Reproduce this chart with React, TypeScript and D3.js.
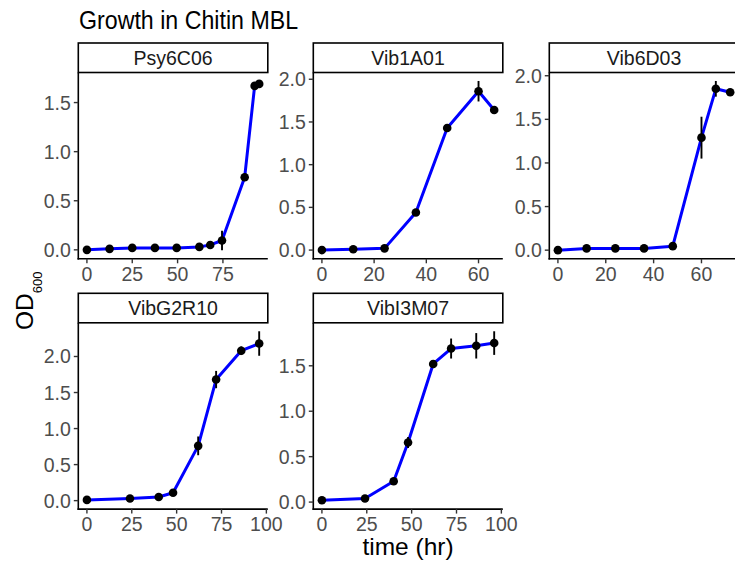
import React from 'react';
import * as d3 from 'd3';

// strain names, in facet order
const strains = ['Psy6C06', 'Vib1A01', 'Vib6D03', 'VibG2R10', 'VibI3M07'];

// time (hr), mean OD600 and error per strain
const timePsy6C06 = [0, 12.5, 25, 37.5, 49.5, 62, 68, 74.5, 87, 92.5, 95];
const odPsy6C06 = [0.0, 0.01, 0.02, 0.02, 0.02, 0.03, 0.05, 0.095, 0.74, 1.67, 1.69];
const errPsy6C06 = [0.005, 0.01, 0.015, 0.01, 0.01, 0.015, 0.01, 0.1, 0.02, 0.02, 0.03];

const timeVib1A01 = [0, 12, 24, 36, 48, 60, 66];
const odVib1A01 = [0.0, 0.01, 0.02, 0.44, 1.43, 1.86, 1.64];
const errVib1A01 = [0.003, 0.01, 0.01, 0.02, 0.02, 0.12, 0.02];

const timeVib6D03 = [0, 12, 24, 36, 48, 60, 66, 72];
const odVib6D03 = [0.0, 0.02, 0.02, 0.02, 0.046, 1.29, 1.85, 1.81];
const errVib6D03 = [0.002, 0.02, 0.015, 0.015, 0.02, 0.24, 0.09, 0.02];

const timeVibG2R10 = [0, 24, 40, 48, 62, 72, 86, 96];
const odVibG2R10 = [0.01, 0.03, 0.05, 0.11, 0.76, 1.68, 2.08, 2.18];
const errVibG2R10 = [0.01, 0.015, 0.02, 0.03, 0.13, 0.12, 0.06, 0.17];

const timeVibI3M07 = [0, 24, 40, 48, 62, 72, 86, 96];
const odVibI3M07 = [0.02, 0.04, 0.23, 0.655, 1.52, 1.69, 1.72, 1.75];
const errVibI3M07 = [0.004, 0.01, 0.02, 0.06, 0.02, 0.11, 0.14, 0.13];

// x tick labels per facet
const xTicksPsy6C06 = [0, 25, 50, 75, 100];
const xTicksVib = [0, 20, 40, 60];
const xTicksLong = [0, 25, 50, 75, 100];

const series = [
  { time: timePsy6C06, od: odPsy6C06, err: errPsy6C06, xTicks: xTicksPsy6C06 },
  { time: timeVib1A01, od: odVib1A01, err: errVib1A01, xTicks: xTicksVib },
  { time: timeVib6D03, od: odVib6D03, err: errVib6D03, xTicks: xTicksVib },
  { time: timeVibG2R10, od: odVibG2R10, err: errVibG2R10, xTicks: xTicksLong },
  { time: timeVibI3M07, od: odVibI3M07, err: errVibI3M07, xTicks: xTicksLong },
];

const W = 735;
const H = 567;
const font = "'Liberation Sans', Arial, sans-serif";

// facet grid geometry
const colX = [78.3, 313.3, 549.3];
const stripTop = [43, 293.3];
const panelW = 189.5;
const stripH = 29.5;
const panelH = 186.3;

// ggplot-style 5% expansion
const expand = (lo: number, hi: number): [number, number] => {
  const pad = (hi - lo) * 0.05;
  return [lo - pad, hi + pad];
};

const Panel = ({ idx }: { idx: number }) => {
  const s = series[idx];
  const col = idx % 3;
  const row = Math.floor(idx / 3);
  const left = colX[col];
  const sTop = stripTop[row];
  const top = sTop + stripH;
  const bottom = top + panelH;

  const pts = s.time.map((t, i) => ({ t, v: s.od[i], e: s.err[i] }));

  const x = d3
    .scaleLinear()
    .domain(expand(d3.min(s.time)!, d3.max(s.time)!))
    .range([left, left + panelW]);
  const y = d3
    .scaleLinear()
    .domain(expand(d3.min(pts, (d) => d.v - d.e)!, d3.max(pts, (d) => d.v + d.e)!))
    .range([bottom, top]);

  const [x0, x1] = x.domain();
  const xt = s.xTicks.filter((t) => t >= x0 && t <= x1);
  const [y0, y1] = y.domain();
  const yt = d3.ticks(y0, y1, 4).filter((t) => t >= y0 && t <= y1);

  const line = d3
    .line<{ t: number; v: number }>()
    .x((d) => x(d.t))
    .y((d) => y(d.v));

  return (
    <g>
      {/* strip */}
      <rect x={left} y={sTop} width={panelW} height={stripH} fill="#fff" stroke="#000" strokeWidth={1.6} />
      <text x={left + panelW / 2} y={sTop + stripH / 2 + 7} textAnchor="middle" fontSize={19.5} fill="#1A1A1A">
        {strains[idx]}
      </text>

      {/* data */}
      <path d={line(pts)!} fill="none" stroke="#0000FF" strokeWidth={3} strokeLinejoin="round" />
      {pts.map((d, i) => (
        <line key={'e' + i} x1={x(d.t)} x2={x(d.t)} y1={y(d.v - d.e)} y2={y(d.v + d.e)} stroke="#000" strokeWidth={1.9} />
      ))}
      {pts.map((d, i) => (
        <circle key={'p' + i} cx={x(d.t)} cy={y(d.v)} r={4.3} fill="#000" />
      ))}

      {/* axes */}
      <line x1={left} x2={left} y1={top} y2={bottom + 0.8} stroke="#000" strokeWidth={1.6} />
      <line x1={left - 0.8} x2={left + panelW} y1={bottom} y2={bottom} stroke="#000" strokeWidth={1.6} />
      {yt.map((t) => (
        <g key={'y' + t}>
          <line x1={left - 4.5} x2={left} y1={y(t)} y2={y(t)} stroke="#333" strokeWidth={1.4} />
          <text x={left - 7.5} y={y(t) + 7} textAnchor="end" fontSize={19.5} fill="#4D4D4D">
            {d3.format('.1f')(t)}
          </text>
        </g>
      ))}
      {xt.map((t) => (
        <g key={'x' + t}>
          <line x1={x(t)} x2={x(t)} y1={bottom} y2={bottom + 4.5} stroke="#333" strokeWidth={1.4} />
          <text x={x(t)} y={bottom + 22} textAnchor="middle" fontSize={19.5} fill="#4D4D4D">
            {t}
          </text>
        </g>
      ))}
    </g>
  );
};

export default function App() {
  return (
    <svg
      width={W}
      height={H}
      fontFamily={font}
      style={{ position: 'absolute', left: 0, top: 0, background: '#fff' }}
    >
      <rect width={W} height={H} fill="#fff" />
      <text transform="translate(79,28.5) scale(1,1.12)" fontSize={23.2} fill="#000">
        Growth in Chitin MBL
      </text>
      {strains.map((_, i) => (
        <Panel key={i} idx={i} />
      ))}
      <text x={408} y={555} textAnchor="middle" fontSize={24.5} fill="#000">
        time (hr)
      </text>
      <text transform="translate(33.3,330) rotate(-90)" fontSize={24.5} fill="#000">
        OD
        <tspan fontSize={13} dy={8.4}>
          600
        </tspan>
      </text>
    </svg>
  );
}
